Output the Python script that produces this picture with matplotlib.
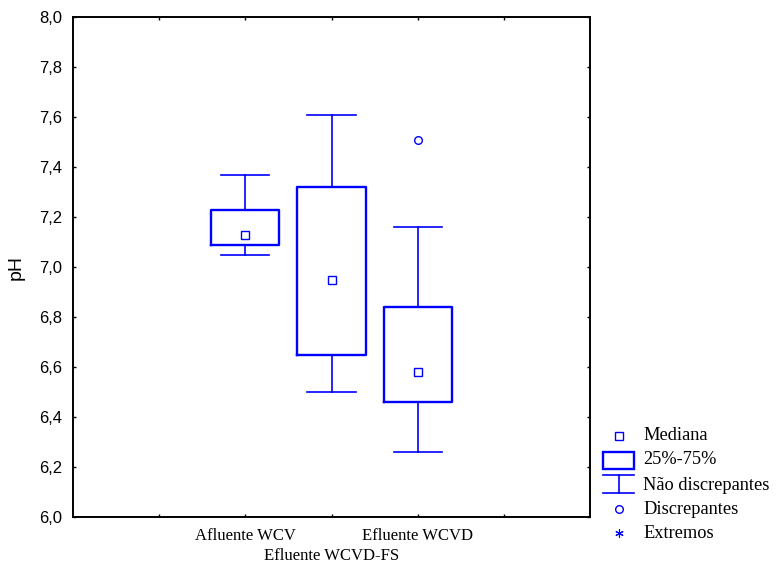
import numpy as np
import matplotlib
matplotlib.use("Agg")
import matplotlib.pyplot as plt
from matplotlib.patches import Rectangle

# summary statistics of pH per sampling point
groups = ["Afluente WCV", "Efluente WCVD-FS", "Efluente WCVD"]
positions = [2, 3, 4]
medians = [7.13, 6.95, 6.58]
q1 = [7.09, 6.65, 6.46]
q3 = [7.23, 7.32, 6.84]
whislo = [7.05, 6.50, 6.26]
whishi = [7.37, 7.61, 7.16]
outliers = [[], [], [7.51]]

yticks = np.arange(6.0, 8.01, 0.2)
ytick_labels = [f"{v:.1f}".replace(".", ",") for v in yticks]

BLUE = "#0000ff"
SERIF = "Liberation Serif"
SANS = "Liberation Sans"

W, H = 778, 564
fig = plt.figure(figsize=(W / 100, H / 100), dpi=100)
ax = fig.add_axes([73 / W, (H - 517) / H, 517 / W, 500 / H])

stats = []
for i in range(len(groups)):
    stats.append(dict(med=medians[i], q1=q1[i], q3=q3[i],
                      whislo=whislo[i], whishi=whishi[i],
                      fliers=outliers[i], label=groups[i]))

ax.bxp(stats, positions=positions, widths=0.79, capwidths=0.56,
       showfliers=True, patch_artist=False,
       boxprops=dict(color=BLUE, lw=1.7),
       whiskerprops=dict(color=BLUE, lw=1.2),
       capprops=dict(color=BLUE, lw=1.2),
       medianprops=dict(linestyle="none"),
       flierprops=dict(marker="o", markersize=5.5, markerfacecolor="white",
                       markeredgecolor=BLUE, markeredgewidth=1.0))
ax.plot(positions, medians, "s", ms=5.5, mfc="white", mec=BLUE, mew=1.0,
        ls="none")

ax.set_xlim(0, 6)
ax.set_ylim(6.0, 8.0)
ax.set_xticks([1, 2, 3, 4, 5])
ax.set_xticklabels(["", "", "", "", ""])
ax.set_yticks(yticks)
ax.set_yticklabels(ytick_labels, fontfamily=SANS, fontsize=12)
ax.tick_params(direction="in", length=2.5, width=1, top=True, right=True,
               color="black")
ax.tick_params(axis="y", pad=8)
for sp in ax.spines.values():
    sp.set_linewidth(1.4)

# category labels staggered on two rows
for i, (p, g) in enumerate(zip(positions, groups)):
    yoff = -0.077 if i % 2 == 0 else -0.157
    ax.text(p, 6.0 + yoff, g, ha="center", va="center",
            fontfamily=SERIF, fontsize=12)

ax.set_ylabel("pH", fontfamily=SANS, fontsize=14, labelpad=10)

# legend drawn in pixel coordinates beside the plot
lg = fig.add_axes([596 / W, (H - 548) / H, 182 / W, 128 / H])
lg.set_xlim(596, 778)
lg.set_ylim(548, 420)
lg.axis("off")
mx = 619
lg.plot(mx, 436, "s", ms=5.5, mfc="white", mec=BLUE, mew=1.0)
lg.add_patch(Rectangle((603, 452), 31, 16.5, fill=False, ec=BLUE, lw=1.7))
lg.plot([603, 634], [475, 475], color=BLUE, lw=1.2)
lg.plot([603, 634], [492.5, 492.5], color=BLUE, lw=1.2)
lg.plot([mx, mx], [475, 492.5], color=BLUE, lw=1.2)
lg.plot(mx, 509, "o", ms=5.5, mfc="white", mec=BLUE, mew=1.0)
lg.plot(mx, 533, marker=(6, 2, 0), ms=6, color=BLUE, mew=0.8)
labels = ["Mediana", "25%-75%", "Não discrepantes", "Discrepantes", "Extremos"]
ys = [436, 460, 485, 509, 533]
for t, y in zip(labels, ys):
    lg.text(643, y, t, ha="left", va="center", fontfamily=SERIF,
            fontsize=13.2)

fig.savefig("out.png", dpi=100)
